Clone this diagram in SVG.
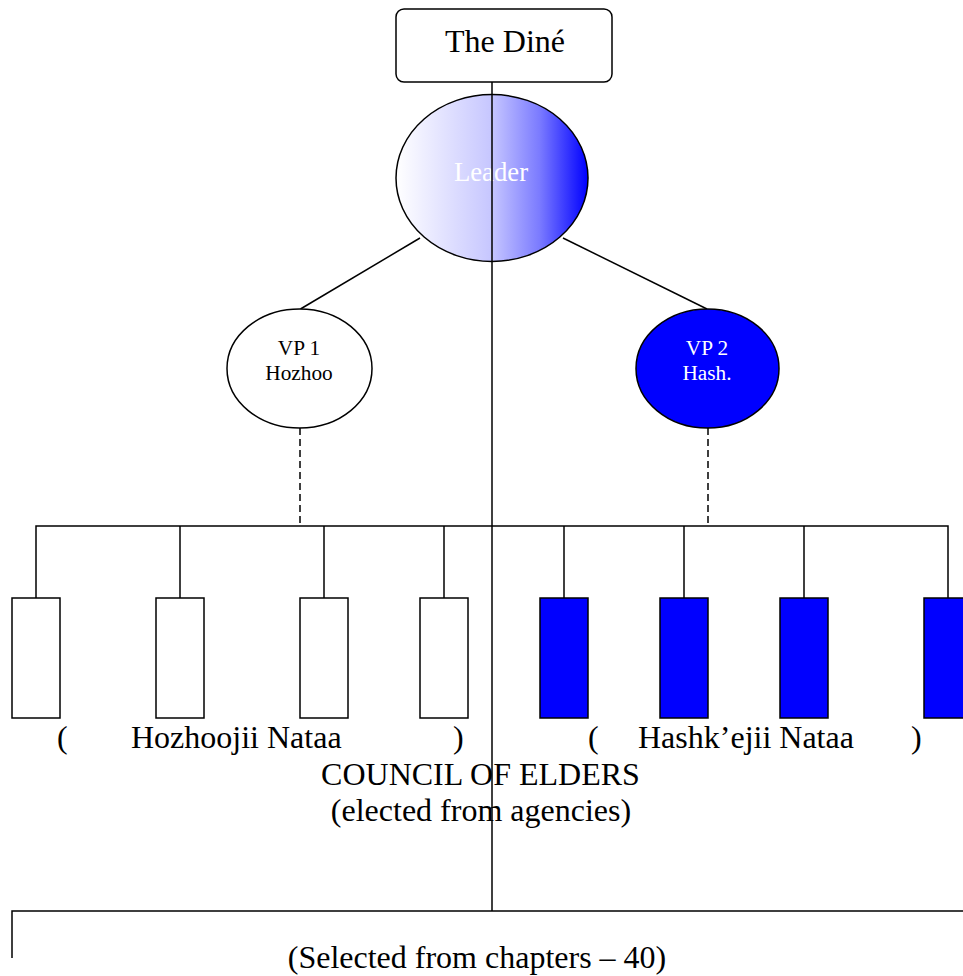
<svg xmlns="http://www.w3.org/2000/svg" width="963" height="976" viewBox="0 0 963 976">
<style>
.ln{stroke:#000;stroke-width:1.5;fill:none}
.dash{stroke:#000;stroke-width:1.5;fill:none;stroke-dasharray:7,4}
.t{font-family:"Liberation Serif","Times New Roman",serif;fill:#000}
.w{fill:#fff}
.box{fill:#fff;stroke:#000;stroke-width:1.5}
.bbox{fill:#0000ff;stroke:#000;stroke-width:1.5}
</style>
<defs>
<linearGradient id="lg" x1="0" y1="0" x2="1" y2="0">
<stop offset="0" stop-color="#ffffff"/>
<stop offset="0.5" stop-color="#c6c6ff"/>
<stop offset="0.75" stop-color="#7a7aff"/>
<stop offset="1" stop-color="#0000ff"/>
</linearGradient>
</defs>
<rect width="963" height="976" fill="#fff"/>
<g id="connectors">
<line class="ln" x1="420" y1="238" x2="300.5" y2="309"/>
<line class="ln" x1="563" y1="238" x2="707" y2="309"/>
<line class="dash" x1="300" y1="428" x2="300" y2="526"/>
<line class="dash" x1="708" y1="428" x2="708" y2="526"/>
<polyline class="ln" points="36,598 36,526 948,526 948,598"/>
<line class="ln" x1="180" y1="526" x2="180" y2="598"/>
<line class="ln" x1="324" y1="526" x2="324" y2="598"/>
<line class="ln" x1="444" y1="526" x2="444" y2="598"/>
<line class="ln" x1="564" y1="526" x2="564" y2="598"/>
<line class="ln" x1="684" y1="526" x2="684" y2="598"/>
<line class="ln" x1="804" y1="526" x2="804" y2="598"/>
<polyline class="ln" points="12,958 12,911 963,911"/>
</g>
<g id="dine">
<rect class="box" x="396" y="9" width="216" height="73" rx="8"/>
<text class="t" x="505" y="52" font-size="32" text-anchor="middle">The Diné</text>
</g>
<g id="leader">
<ellipse cx="492" cy="178" rx="96" ry="83.5" fill="url(#lg)" stroke="#000" stroke-width="1.5"/>
<text class="t w" x="491" y="181" font-size="26.7" text-anchor="middle">Leader</text>
</g>
<g id="vp1">
<ellipse class="box" cx="299.5" cy="368.5" rx="72.5" ry="59.5"/>
<text class="t" x="299" y="355" font-size="21.3" text-anchor="middle">VP 1</text>
<text class="t" x="299" y="380" font-size="21.3" text-anchor="middle">Hozhoo</text>
</g>
<g id="vp2">
<ellipse class="bbox" cx="707.5" cy="368.5" rx="71.5" ry="59.5"/>
<text class="t w" x="707" y="355" font-size="21.3" text-anchor="middle">VP 2</text>
<text class="t w" x="707" y="380" font-size="21.3" text-anchor="middle">Hash.</text>
</g>
<g id="h1"><rect class="box" x="12" y="598" width="48" height="120"/></g>
<g id="h2"><rect class="box" x="156" y="598" width="48" height="120"/></g>
<g id="h3"><rect class="box" x="300" y="598" width="48" height="120"/></g>
<g id="h4"><rect class="box" x="420" y="598" width="48" height="120"/></g>
<g id="k1"><rect class="bbox" x="540" y="598" width="48" height="120"/></g>
<g id="k2"><rect class="bbox" x="660" y="598" width="48" height="120"/></g>
<g id="k3"><rect class="bbox" x="780" y="598" width="48" height="120"/></g>
<g id="k4"><rect class="bbox" x="924" y="598" width="48" height="120"/></g>
<line class="ln" x1="492" y1="82" x2="492" y2="911"/>
<g id="labels">
<text class="t" x="57" y="748" font-size="32">(</text>
<text class="t" x="131" y="748" font-size="32">Hozhoojii Nataa</text>
<text class="t" x="453" y="748" font-size="32">)</text>
<text class="t" x="588" y="748" font-size="32">(</text>
<text class="t" x="638" y="748" font-size="32">Hashk’ejii Nataa</text>
<text class="t" x="911" y="748" font-size="32">)</text>
<text class="t" x="480.5" y="785" font-size="32" text-anchor="middle">COUNCIL OF ELDERS</text>
<text class="t" x="481" y="821" font-size="32" text-anchor="middle">(elected from agencies)</text>
<text class="t" x="477" y="968" font-size="32" text-anchor="middle">(Selected from chapters – 40)</text>
</g>
</svg>
